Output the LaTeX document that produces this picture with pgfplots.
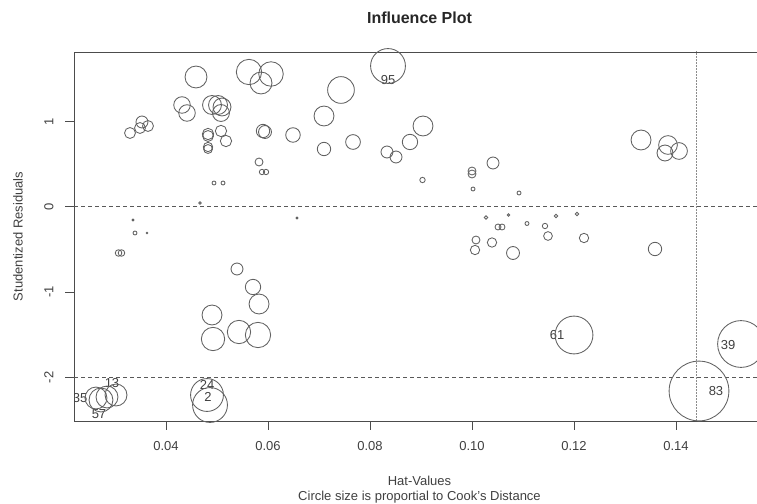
\documentclass[border=0pt]{standalone}
\usepackage{fontspec}
\setmainfont{Liberation Sans}
\usepackage{pgfplots}
\pgfplotsset{compat=1.18}
\usepackage{pgfplotstable}

% hat value, studentized residual, circle radius (proportional to sqrt of Cook's distance)
\pgfplotstableread{
hat stud r
0.04588 1.5205 11
0.05627 1.5790 12.7
0.06059 1.5557 12.3
0.05863 1.4502 11
0.04314 1.1923 8.3
0.04412 1.0985 8.3
0.04902 1.1923 9.5
0.05020 1.1923 9.5
0.05098 1.1688 9
0.05078 1.0985 8.5
0.03294 0.8640 5.5
0.03490 0.9226 5.5
0.03529 0.9930 6
0.03647 0.9461 5.5
0.04824 0.8523 5.7
0.04824 0.8289 5.5
0.04824 0.6999 4.7
0.04824 0.6764 4.5
0.05078 0.8875 5.7
0.05176 0.7702 5.7
0.05902 0.8875 6.7
0.05941 0.8757 6.5
0.06490 0.8406 7.3
0.05824 0.5240 4
0.05882 0.4068 2.7
0.05961 0.4068 2.7
0.04941 0.2778 2
0.05118 0.2778 2
0.04667 0.0434 1.2
0.03353 -0.1559 1
0.03392 -0.3083 2
0.03627 -0.3083 0.8
0.06569 -0.1325 1
0.03069 -0.5428 3.3
0.03127 -0.5428 3.3
0.08353 1.6495 17.5
0.07431 1.3681 13.4
0.07098 1.0633 10
0.07098 0.6764 6.7
0.07667 0.7585 7.4
0.08333 0.6413 6
0.08510 0.5826 6
0.08784 0.7585 7.7
0.09039 0.9461 10
0.09029 0.3130 2.7
0.10000 0.4185 4
0.10000 0.3834 4
0.10412 0.5123 6
0.10020 0.2075 2
0.10922 0.1606 2
0.13314 0.7820 10
0.13843 0.7233 9.4
0.13784 0.6295 8
0.14059 0.6530 8.4
0.10275 -0.1266 1.7
0.10716 -0.0973 1.3
0.10510 -0.2380 3
0.10588 -0.2380 3
0.11078 -0.1970 2
0.11431 -0.2263 2.7
0.11647 -0.1090 1.7
0.12059 -0.0856 1.7
0.10078 -0.3904 4
0.10059 -0.5076 4.7
0.10392 -0.4197 4.7
0.10804 -0.5428 6.5
0.11490 -0.3435 4.4
0.12196 -0.3669 4.7
0.13588 -0.4959 6.7
0.12000 -1.5041 19
0.15275 -1.6096 23.5
0.14451 -2.1606 30
0.05392 -0.7304 6
0.05706 -0.9414 7.7
0.05824 -1.1407 10
0.04902 -1.2696 10
0.04922 -1.5510 11.7
0.05431 -1.4689 11.7
0.05804 -1.5041 12.7
0.04804 -2.2075 16.5
0.04863 -2.3247 17.5
0.02627 -2.2427 11
0.02725 -2.2661 12
0.02843 -2.2310 11
0.03020 -2.2075 11
}\infl

\newcommand\lbl{\fontsize{13bp}{15bp}\selectfont}

\begin{document}
\begin{tikzpicture}
\useasboundingbox (0,0) rectangle (757bp,504bp);
\clip (0,0) rectangle (757bp,504bp);
\begin{axis}[
  at={(74bp,83bp)}, anchor=south west,
  scale only axis, width=691bp, height=369bp,
  xmin=0.02196, xmax=0.15745, ymin=-2.5123, ymax=1.8136,
  axis line style={black!70, line width=0.9bp},
  xtick={0.04,0.06,0.08,0.10,0.12,0.14},
  xticklabels={0.04,0.06,0.08,0.10,0.12,0.14},
  ytick={-2,-1,0,1}, yticklabels={-2,-1,0,1},
  tick align=outside, xtick pos=bottom, ytick pos=left,
  major tick length=9bp,
  tick style={black!70, line width=0.9bp},
  ticklabel style={font=\lbl, text=black!75},
  xticklabel style={anchor=base},
  yticklabel style={rotate=90, anchor=base},
  xticklabel shift=20.5bp, yticklabel shift=11.7bp,
  clip=true,
]
% reference lines: residuals at 0 and -2, hat-value cutoff
\draw[black!65, line width=0.8bp, dash pattern=on 4bp off 3bp]
  (axis cs:0,0) -- (axis cs:0.2,0);
\draw[black!65, line width=0.8bp, dash pattern=on 4bp off 3bp]
  (axis cs:0,-2) -- (axis cs:0.2,-2);
\draw[black!45, line width=1bp, dash pattern=on 1.5bp off 1.5bp]
  (axis cs:0.1441,-3) -- (axis cs:0.1441,2);

\addplot[
  scatter, only marks, mark=o,
  scatter/use mapped color={draw=black!62},
  mark options={line width=0.85bp},
  visualization depends on={\thisrow{r} \as \rad},
  scatter/@pre marker code/.append style={/tikz/mark size=\rad},
] table[x=hat, y=stud] {\infl};

% labelled observations
\begin{scope}[every node/.style={font=\lbl, text=black!75}]
\node at (axis cs:0.08353,1.4853) {95};
\node at (axis cs:0.11667,-1.5041) {61};
\node at (axis cs:0.15020,-1.6213) {39};
\node at (axis cs:0.14784,-2.1606) {83};
\node at (axis cs:0.02941,-2.0668) {13};
\node at (axis cs:0.02314,-2.2427) {35};
\node at (axis cs:0.02686,-2.4302) {57};
\node at (axis cs:0.04804,-2.0903) {24};
\node at (axis cs:0.04824,-2.2310) {2};
\end{scope}
\end{axis}

\node[anchor=base, font=\fontsize{16bp}{19bp}\selectfont\bfseries, text=black!85]
  at (419.5bp,480bp) {Influence Plot};
\node[anchor=base, font=\lbl, text=black!75] at (419.5bp,19bp) {Hat-Values};
\node[anchor=base, font=\lbl, text=black!75] at (419.5bp,4bp)
  {Circle size is proportial to Cook's Distance};
\node[rotate=90, font=\lbl, text=black!75] at (18bp,267.5bp) {Studentized Residuals};
\end{tikzpicture}
\end{document}
